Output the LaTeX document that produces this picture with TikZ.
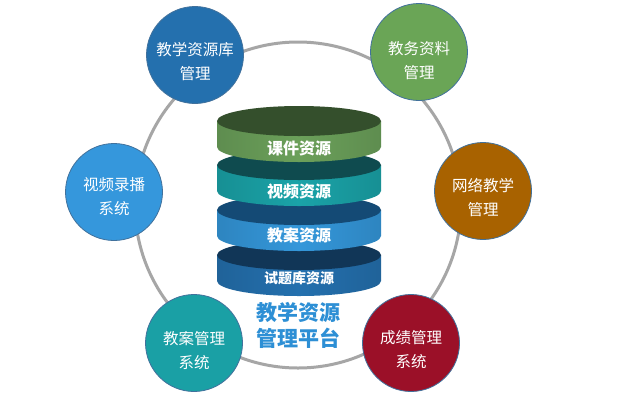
\documentclass[tikz,border=0pt]{standalone}
\usepackage{fontspec}
\setmainfont{Noto Sans CJK SC}
\definecolor{ringgray}{HTML}{A6A6A6}
\definecolor{cblue}{HTML}{2470AE}
\definecolor{cgreen}{HTML}{6AA556}
\definecolor{corange}{HTML}{A86200}
\definecolor{cred}{HTML}{9B1028}
\definecolor{cteal}{HTML}{1AA0A5}
\definecolor{clight}{HTML}{3597DC}
\definecolor{cborder}{HTML}{41719C}
\definecolor{titleblue}{HTML}{2D8FD5}
\definecolor{topA}{HTML}{344F2C}
\definecolor{sideA}{HTML}{6BA05A}
\definecolor{topB}{HTML}{0F4B4F}
\definecolor{sideB}{HTML}{1AA3A8}
\definecolor{topC}{HTML}{144A75}
\definecolor{sideC}{HTML}{3497DA}
\definecolor{topD}{HTML}{113657}
\definecolor{sideD}{HTML}{2470AE}
\tikzset{
  module/.style={circle, minimum size=97pt, inner sep=0pt, draw=cborder, line width=0.8pt},
  mtext/.style={text=white, align=center, inner sep=0pt, font=\fontsize{15.5}{24}\selectfont},
  layertext/.style={text=white, font=\bfseries\fontsize{16}{18}\selectfont},
}
\newcommand{\stacklayer}[3]{%
  \shade[left color=#3!88!black, right color=#3!88!black, middle color=#3]
    (217,#1) -- (217,#1+26) arc[start angle=180, end angle=0, x radius=82, y radius=15]
    -- (381,#1) -- cycle;
  \fill[#2] (299,#1) ellipse[x radius=82, y radius=15];
}
\begin{document}
\begin{tikzpicture}[x=1pt,y=-1pt]
\useasboundingbox (0,0) rectangle (618,400);
\fill[white] (0,0) rectangle (618,400);
\node[circle, minimum size=326pt, inner sep=0pt, draw=ringgray, line width=3pt] (ring) at (298,205) {};

\node[module, fill=cblue] (c1) at (195,55) {};
\node[module, fill=cgreen] (c2) at (419,52) {};
\node[module, fill=corange] (c3) at (483,191) {};
\node[module, fill=cred] (c4) at (411,343) {};
\node[module, fill=cteal] (c5) at (194,343) {};
\node[module, fill=clight] (c6) at (114,192) {};
\node[mtext] (t1) at ([yshift=-7pt]c1.center) {教学资源库\\管理};
\node[mtext] (t2) at ([yshift=-9pt]c2.center) {教务资料\\管理};
\node[mtext] (t3) at ([yshift=-7pt]c3.center) {网络教学\\管理};
\node[mtext] (t4) at ([yshift=-7pt]c4.center) {成绩管理\\系统};
\node[mtext] (t5) at ([yshift=-8pt]c5.center) {教案管理\\系统};
\node[mtext] (t6) at ([yshift=-5pt]c6.center) {视频录播\\系统};

\stacklayer{255}{topD}{sideD}
\stacklayer{210}{topC}{sideC}
\stacklayer{165}{topB}{sideB}
\stacklayer{121}{topA}{sideA}
\node[layertext] (l1) at (299,148) {课件资源};
\node[layertext] (l2) at (299,191) {视频资源};
\node[layertext] (l3) at (299,235) {教案资源};
\node[layertext, font=\bfseries\fontsize{14}{16}\selectfont] (l4) at (299,278) {试题库资源};

\node[text=titleblue, align=center, font=\bfseries\fontsize{21}{26}\selectfont] (title) at (298,325) {教学资源\\管理平台};
\end{tikzpicture}
\end{document}
